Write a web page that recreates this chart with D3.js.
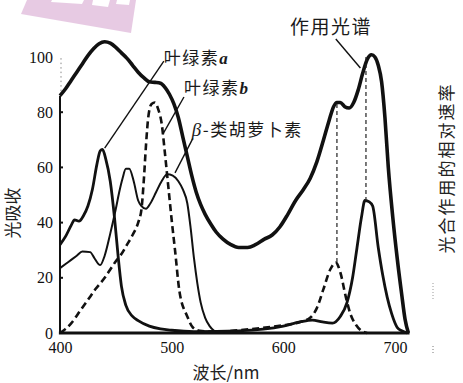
<!DOCTYPE html>
<html><head><meta charset="utf-8">
<script src="https://cdn.jsdelivr.net/npm/d3@7"></script>
<style>
html,body{margin:0;padding:0;background:#fff;}
svg{display:block;}
</style></head>
<body>
<svg id="chart" width="463" height="383"></svg>
<script>
// ---------- DATA ----------
const xTicks = [400, 500, 600, 700];
const yTicks = [0, 20, 40, 60, 80, 100];

// 作用光谱 (action spectrum) [nm, value]
const actionSpectrum = [[400,86],[405,88.5],[410,91.5],[415,94.5],[420,97.5],[425,100.5],[430,103],[435,104.8],[440,105.5],[445,105],[450,103.5],[455,101.5],[460,99.5],[465,97],[470,94.5],[475,92.5],[480,91],[485,90.8],[490,90.5],[494,89],[498,86.5],[502,83],[506,78],[510,71],[514,64],[518,57],[522,51],[526,46.5],[530,43],[535,39.5],[540,36.5],[546,34],[553,32],[560,31],[568,31],[575,32],[583,34],[590,35.5],[597,38.5],[604,43],[611,48],[618,52],[624,56],[630,62],[636,70],[641,77],[645,82],[648,83.5],[651,83.5],[655,82],[659,81.5],[663,83.5],[667,88],[671,94],[675,99],[679,100.8],[682,100],[685,97],[688,91],[691,78],[694,60],[698,42],[702,27],[706,14],[709,5],[712,0]];

// 叶绿素a
const chlorophyllA = [[400,32],[405,35],[410,39],[413,41],[417,40.5],[421,42.5],[425,46],[429,52],[433,61],[436,66],[438,66.5],[441,63],[445,55],[449,41],[452,28],[455,17],[459,10],[465,6],[470,4.5],[480,2.5],[490,1.5],[500,1],[520,0.5],[560,0.8],[600,2.5],[615,4],[626,4.7],[635,4],[644,3.6],[651,6],[657,11],[662,20],[666,31],[670,42],[673,48],[677,47.5],[680,46],[685,31],[689,21],[693,13],[697,7],[702,2],[706,0.8],[711,0]];

// 叶绿素b (dashed)
const chlorophyllB = [[400,0],[405,1.5],[410,3.5],[418,8],[425,12],[432,16],[440,20],[445,23],[450,26],[454,28],[460,32],[465,35.5],[470,40],[473,45],[475,55],[477,68],[479,78],[482,83],[485,83.5],[488,81],[491,76],[494,65],[497,53],[500,41],[503,30],[507,15],[514,6],[519,2],[525,0.8],[540,0.5],[560,1],[580,1.8],[600,2.8],[615,4],[624,5.5],[630,9],[636,16],[642,23],[647,25.5],[651,22],[656,13],[660,7],[665,3],[670,0.8],[675,0]];

// β-类胡萝卜素
const carotene = [[400,23.5],[405,25],[410,26.5],[415,28],[420,29.5],[427,29.3],[431,27],[436,24.6],[440,28],[445,36],[450,45],[453,51],[456,56],[459,59.5],[462,59.5],[466,55],[470,48],[473,46],[477,45],[481,47],[486,51],[491,55],[496,57.5],[501,57],[506,55],[510,52],[514,47],[517,38],[520,27],[523,18],[526,11],[530,5.5],[534,2.5],[538,0.8],[542,0]];

// vertical guide lines [nm, top value, bottom value]
const guides = [[648, 83, 25.5], [674, 100, 48]];

// labels: text, anchor [nm,val], pointer end [nm,val]
const labels = [
  {text:"叶绿素", italic:"a", at:[493,97.5], from:[493,98.5], to:[440,67], size:17},
  {text:"叶绿素", italic:"b", at:[511,86.5], from:[511,85.5], to:[492,72], size:17},
  {text:"-类胡萝卜素", greek:"β", at:[518,71.5], from:[519,70.5], to:[503,58], size:17},
  {text:"作用光谱", at:[606,108.5], from:[647,106.5], to:[669,96], size:19}
];

// ---------- CHART ----------
const svg = d3.select("#chart");
const x = d3.scaleLinear().domain([400,700]).range([60,395]);
const y = d3.scaleLinear().domain([0,100]).range([333,57]);
const serif = "'Liberation Serif','DejaVu Serif',serif";
const cjk = "'Noto Sans CJK SC','Noto Sans CJK JP',sans-serif";

// pink watermark
const wm = svg.append("g").attr("opacity",0.6);
wm.append("polygon").attr("points","27,0 136,0 131,33 21,14").attr("fill","#d8a8d2");
wm.append("polygon").attr("points","52,0 84,0 82,4 51,2").attr("fill","#fff");
wm.append("polygon").attr("points","93,0 110,0 108,7 92,5").attr("fill","#fff");
wm.append("polygon").attr("points","117,0 130,0 129,5 116,4").attr("fill","#fff");

// axes
const yAxis = d3.axisLeft(y).tickValues(yTicks).tickSize(0).tickPadding(7).tickFormat(d3.format("d"));
const yg = svg.append("g").attr("transform",`translate(${x(400)},0)`).call(yAxis);
yg.select(".domain").remove();
yg.selectAll("text").attr("font-family",serif).attr("font-size",16).attr("fill","#111");
svg.append("line").attr("x1",x(400)).attr("x2",x(400)).attr("y1",y(0)).attr("y2",y(86))
  .attr("stroke","#111").attr("stroke-width",2);
svg.append("line").attr("x1",x(400)+1).attr("x2",x(400)+1).attr("y1",y(86)).attr("y2",y(100))
  .attr("stroke","#888").attr("stroke-width",1).attr("stroke-dasharray","1.5,3");
svg.append("g").selectAll("line").data(yTicks.filter(d=>d>0 && d<100)).join("line")
  .attr("x1",x(400)).attr("x2",x(400)+3).attr("y1",d=>y(d)).attr("y2",d=>y(d))
  .attr("stroke","#111").attr("stroke-width",2);

const xAxis = d3.axisBottom(x).tickValues(xTicks).tickSize(0).tickPadding(9).tickFormat(d3.format("d"));
const xg = svg.append("g").attr("transform",`translate(0,${y(0)})`).call(xAxis);
xg.select(".domain").remove();
xg.selectAll("text").attr("font-family",serif).attr("font-size",16).attr("fill","#111");
svg.append("line").attr("x1",x(399)).attr("x2",x(713)).attr("y1",y(0)).attr("y2",y(0))
  .attr("stroke","#111").attr("stroke-width",3);

// curves
const line = d3.line().x(d=>x(d[0])).y(d=>y(d[1])).curve(d3.curveMonotoneX);
svg.append("path").attr("d",line(carotene)).attr("fill","none").attr("stroke","#111").attr("stroke-width",2);
svg.append("path").attr("d",line(chlorophyllA)).attr("fill","none").attr("stroke","#111").attr("stroke-width",2.8);
svg.append("path").attr("d",line(chlorophyllB)).attr("fill","none").attr("stroke","#111").attr("stroke-width",2.6).attr("stroke-dasharray","7,4");
svg.append("path").attr("d",line(actionSpectrum)).attr("fill","none").attr("stroke","#111").attr("stroke-width",3.6).attr("stroke-linejoin","round");

// guides
svg.append("g").selectAll("line").data(guides).join("line")
  .attr("x1",d=>x(d[0])).attr("x2",d=>x(d[0])).attr("y1",d=>y(d[1])).attr("y2",d=>y(d[2]))
  .attr("stroke","#222").attr("stroke-width",1.2).attr("stroke-dasharray","4,3");

// labels & pointers
labels.forEach(l=>{
  svg.append("line").attr("x1",x(l.from[0])).attr("y1",y(l.from[1])).attr("x2",x(l.to[0])).attr("y2",y(l.to[1]))
    .attr("stroke","#111").attr("stroke-width",1.4);
  const t = svg.append("text").attr("x",x(l.at[0])).attr("y",y(l.at[1]))
    .attr("font-family",cjk).attr("font-size",l.size).attr("fill","#1a1a1a")
    .attr("letter-spacing",1.5);
  if(l.greek){ t.append("tspan").attr("font-family",serif).attr("font-style","italic").attr("font-size",19).text(l.greek); }
  t.append("tspan").text(l.text);
  if(l.italic){ t.append("tspan").attr("font-family",serif).attr("font-style","italic").attr("font-weight","bold").text(l.italic); }
});

// axis titles
svg.append("text").attr("transform","translate(19,213) rotate(-90)").attr("text-anchor","middle")
  .attr("font-family",cjk).attr("font-size",17).attr("fill","#222").text("光吸收");
svg.append("text").attr("transform","translate(453,168) rotate(-90)").attr("text-anchor","middle")
  .attr("font-family",cjk).attr("font-size",17).attr("fill","#222").attr("letter-spacing",2).text("光合作用的相对速率");
svg.append("text").attr("x",226).attr("y",379).attr("text-anchor","middle")
  .attr("font-family",cjk).attr("font-size",17).attr("fill","#222").text("波长/nm");

// faint dotted marks at right
svg.append("line").attr("x1",433).attr("x2",433).attr("y1",283).attr("y2",300)
  .attr("stroke","#999").attr("stroke-width",1).attr("stroke-dasharray","1,2");
svg.append("line").attr("x1",433).attr("x2",433).attr("y1",346).attr("y2",354)
  .attr("stroke","#777").attr("stroke-width",1).attr("stroke-dasharray","1,2");
</script>
</body></html>
